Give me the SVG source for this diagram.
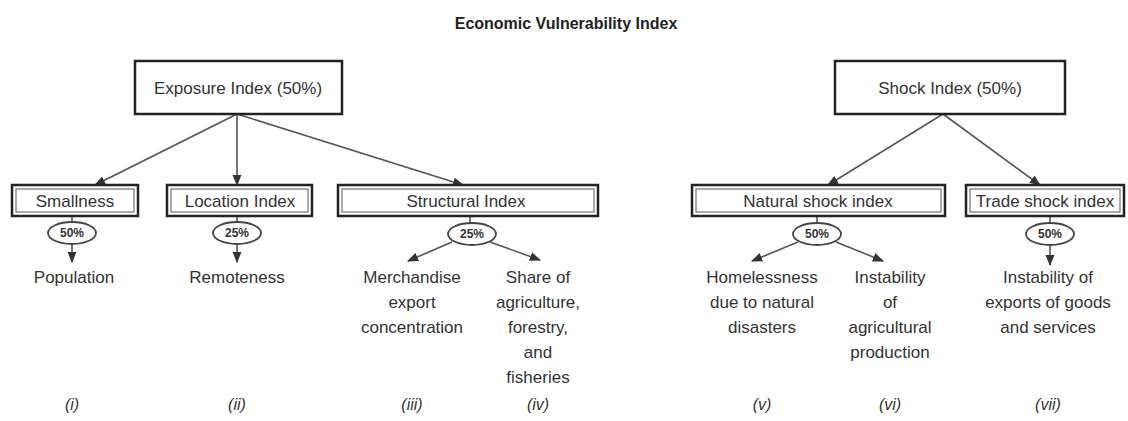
<svg xmlns="http://www.w3.org/2000/svg" width="1128" height="421" viewBox="0 0 1128 421">
<defs>
<marker id="ah" viewBox="0 0 10 10" refX="9" refY="5" markerWidth="7" markerHeight="7" orient="auto-start-reverse">
<path d="M0,1 L10,5 L0,9 z" fill="#333"/>
</marker>
<style>
text{font-family:"Liberation Sans",Arial,sans-serif;fill:#333;text-anchor:middle}
.t{font-size:16px;font-weight:bold;fill:#222}
.top{font-size:17px}
.lab{font-size:17px}
.pct{font-size:12px;font-weight:bold}
.num{font-size:16px;font-style:italic}
.outer{fill:#fff;stroke:#222;stroke-width:2.5}
.inner{fill:none;stroke:#555;stroke-width:1}
.ell{fill:#fff;stroke:#444;stroke-width:1.8}
.c{fill:none;stroke:#555;stroke-width:1.6}
.ca{fill:none;stroke:#555;stroke-width:1.6;marker-end:url(#ah)}
</style>
</defs>
<rect width="1128" height="421" fill="#fff"/>
<text class="t" x="566" y="29">Economic Vulnerability Index</text>

<g id="connectors">
<line class="ca" x1="237" y1="114" x2="95" y2="185"/>
<line class="ca" x1="237" y1="114" x2="237" y2="185"/>
<line class="ca" x1="237" y1="114" x2="463" y2="185"/>
<line class="ca" x1="943" y1="114" x2="828" y2="185"/>
<line class="ca" x1="943" y1="114" x2="1040" y2="185"/>
<line class="c" x1="72" y1="216" x2="72" y2="222"/>
<line class="c" x1="237" y1="216" x2="237" y2="222"/>
<line class="c" x1="470" y1="216" x2="470" y2="223"/>
<line class="c" x1="817" y1="216" x2="817" y2="223"/>
<line class="c" x1="1050" y1="216" x2="1050" y2="223"/>
<line class="ca" x1="72" y1="244" x2="72" y2="262"/>
<line class="ca" x1="237" y1="244" x2="237" y2="262"/>
<line class="ca" x1="452" y1="242" x2="408" y2="261"/>
<line class="ca" x1="490" y1="242" x2="540" y2="260"/>
<line class="ca" x1="798" y1="242" x2="752" y2="261"/>
<line class="ca" x1="836" y1="242" x2="883" y2="261"/>
<line class="ca" x1="1050" y1="246" x2="1050" y2="265"/>
</g>

<g id="exposure">
<rect class="outer" x="135" y="61" width="207" height="53"/>
<text class="top" x="238" y="94">Exposure Index (50%)</text>
</g>
<g id="shock">
<rect class="outer" x="835" y="61" width="230" height="53"/>
<text class="top" x="950" y="94">Shock Index (50%)</text>
</g>

<g id="smallness">
<rect class="outer" x="12" y="185" width="126" height="31"/>
<rect class="inner" x="16" y="189" width="118" height="23"/>
<text class="lab" x="75" y="207">Smallness</text>
<ellipse class="ell" cx="72" cy="233" rx="24" ry="11"/>
<text class="pct" x="72" y="237">50%</text>
<text class="lab" x="74" y="283">Population</text>
<text class="num" x="72" y="410">(i)</text>
</g>

<g id="location">
<rect class="outer" x="167" y="185" width="145" height="31"/>
<rect class="inner" x="171" y="189" width="137" height="23"/>
<text class="lab" x="240" y="207">Location Index</text>
<ellipse class="ell" cx="237" cy="233" rx="24" ry="11"/>
<text class="pct" x="237" y="237">25%</text>
<text class="lab" x="237" y="283">Remoteness</text>
<text class="num" x="237" y="410">(ii)</text>
</g>

<g id="structural">
<rect class="outer" x="338" y="185" width="260" height="31"/>
<rect class="inner" x="342" y="189" width="252" height="23"/>
<text class="lab" x="466" y="207">Structural Index</text>
<ellipse class="ell" cx="472" cy="234" rx="24" ry="11"/>
<text class="pct" x="472" y="238">25%</text>
<text class="lab" x="412" y="283">Merchandise</text>
<text class="lab" x="412" y="308">export</text>
<text class="lab" x="412" y="333">concentration</text>
<text class="lab" x="538" y="283">Share of</text>
<text class="lab" x="538" y="308">agriculture,</text>
<text class="lab" x="538" y="333">forestry,</text>
<text class="lab" x="538" y="358">and</text>
<text class="lab" x="538" y="383">fisheries</text>
<text class="num" x="412" y="410">(iii)</text>
<text class="num" x="538" y="410">(iv)</text>
</g>

<g id="natural">
<rect class="outer" x="692" y="185" width="253" height="31"/>
<rect class="inner" x="696" y="189" width="245" height="23"/>
<text class="lab" x="818" y="207">Natural shock index</text>
<ellipse class="ell" cx="817" cy="234" rx="24" ry="11"/>
<text class="pct" x="817" y="238">50%</text>
<text class="lab" x="762" y="283">Homelessness</text>
<text class="lab" x="762" y="308">due to natural</text>
<text class="lab" x="762" y="333">disasters</text>
<text class="lab" x="890" y="283">Instability</text>
<text class="lab" x="890" y="308">of</text>
<text class="lab" x="890" y="333">agricultural</text>
<text class="lab" x="890" y="358">production</text>
<text class="num" x="762" y="410">(v)</text>
<text class="num" x="890" y="410">(vi)</text>
</g>

<g id="trade">
<rect class="outer" x="966" y="185" width="158" height="31"/>
<rect class="inner" x="970" y="189" width="150" height="23"/>
<text class="lab" x="1045" y="207">Trade shock index</text>
<ellipse class="ell" cx="1050" cy="234" rx="24" ry="11"/>
<text class="pct" x="1050" y="238">50%</text>
<text class="lab" x="1048" y="283">Instability of</text>
<text class="lab" x="1048" y="308">exports of goods</text>
<text class="lab" x="1048" y="333">and services</text>
<text class="num" x="1048" y="410">(vii)</text>
</g>
</svg>
